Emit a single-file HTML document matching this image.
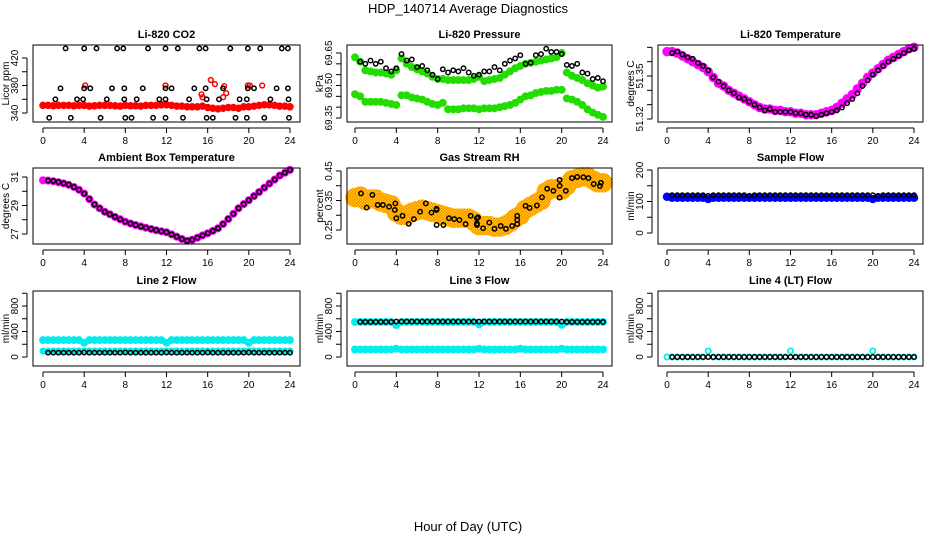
<!DOCTYPE html>
<html><head><meta charset="utf-8">
<style>
html,body{margin:0;padding:0;background:#fff;}
svg{display:block;font-family:"Liberation Sans",Arial,sans-serif;}
</style></head>
<body>
<svg id="chart" width="936" height="540" viewBox="0 0 936 540">
<defs>
<pattern id="rhpat" width="3" height="3" patternUnits="userSpaceOnUse">
<rect width="3" height="3" fill="#ffd400"/><rect width="1.6" height="1.6" fill="#ff8c00"/><rect x="1.5" y="1.5" width="1.5" height="1.5" fill="#ff3000" opacity="0.5"/>
</pattern>
</defs>
<text x="468" y="13" font-size="13" text-anchor="middle">HDP_140714  Average Diagnostics</text>
<text x="468" y="531" font-size="13" text-anchor="middle">Hour of Day (UTC)</text>
</svg>
<script>
// ---- data (values per half hour, 0..24) ----
const co2Red = [351,351,350.5,351,351,351,350.5,351,351,350,350.5,351,351,351,350.5,350,351,350.5,350.5,350,351,351,351,352,352,351,350,350,349,349,349,350,348,347,346,347,348,348,347,349,349,350,351,352,352,351,350,350,349];
const co2RedOutHours = [4.1,11.9,15.4,16.3,16.7,17.6,17.8,17.5,19.9,20.1,21.3,15.5];
const co2RedOutVals = [380,380,367,388,382,379,369,363,380,380,380,363];
const co2BlkHours = [2.2,4.0,5.2,7.2,7.8,10.2,11.9,13.1,15.2,15.8,18.2,19.9,21.1,23.2,23.8,
 1.7,4.0,4.6,6.7,7.9,9.7,11.9,12.5,14.7,15.8,17.5,19.9,20.5,22.7,23.8,
 1.2,3.3,3.9,6.2,7.9,9.1,11.3,11.9,14.2,15.9,17.1,19.1,19.8,22.1,23.85,
 0.6,2.7,5.6,8.0,8.6,10.7,11.9,13.6,15.9,16.5,18.7,19.8,21.5,23.9];
const co2BlkVals = [434,434,434,434,434,434,434,434,434,434,434,434,434,434,434,
 376,376,376,376,376,376,376,376,376,376,376,376,376,376,376,
 360,360,360,360,360,360,360,360,360,360,360,360,360,360,360,
 333,333,333,333,333,333,333,333,333,333,333,333,333,333];

const presUpper = [69.63,69.61,69.57,69.565,69.56,69.56,69.555,69.55,69.57,69.625,69.60,69.585,69.575,69.565,69.555,69.54,69.53,69.53,69.525,69.525,69.525,69.525,69.525,69.53,69.54,69.52,69.525,69.53,69.535,69.55,69.565,69.58,69.59,69.6,69.605,69.61,69.615,69.62,69.625,69.63,69.65,69.56,69.545,69.535,69.525,69.51,69.5,69.49,69.495];
const presLower = [69.46,69.45,69.425,69.425,69.425,69.425,69.42,69.415,69.41,69.455,69.455,69.445,69.44,69.435,69.425,69.415,69.41,69.42,69.39,69.39,69.39,69.395,69.395,69.395,69.39,69.395,69.395,69.395,69.4,69.405,69.41,69.42,69.435,69.45,69.455,69.465,69.47,69.475,69.475,69.48,69.48,69.44,69.435,69.425,69.41,69.39,69.375,69.365,69.355];
const presBlack = [69.61,69.60,69.615,69.60,69.61,69.58,69.565,69.58,69.645,69.615,69.62,69.585,69.59,69.57,69.55,69.53,69.575,69.56,69.57,69.565,69.58,69.56,69.545,69.55,69.565,69.565,69.585,69.57,69.6,69.615,69.625,69.64,69.60,69.605,69.64,69.645,69.67,69.655,69.655,69.645,69.595,69.59,69.6,69.56,69.555,69.53,69.535,69.52];

const tempMag = [51.367,51.367,51.366,51.364,51.362,51.360,51.358,51.356,51.353,51.349,51.345,51.343,51.340,51.338,51.336,51.334,51.332,51.330,51.328,51.327,51.327,51.326,51.326,51.325,51.325,51.324,51.324,51.323,51.323,51.323,51.324,51.325,51.326,51.328,51.331,51.334,51.337,51.341,51.345,51.349,51.352,51.355,51.358,51.361,51.363,51.365,51.367,51.369,51.370];
const tempBlack = [51.366,51.367,51.365,51.363,51.362,51.359,51.357,51.354,51.349,51.346,51.343,51.340,51.338,51.335,51.334,51.332,51.330,51.328,51.326,51.327,51.325,51.325,51.325,51.325,51.324,51.324,51.323,51.323,51.322,51.323,51.324,51.325,51.326,51.328,51.331,51.334,51.338,51.343,51.347,51.351,51.354,51.357,51.360,51.362,51.364,51.366,51.368,51.369];

const ambMag = [30.77,30.75,30.7,30.63,30.55,30.45,30.3,30.1,29.84,29.45,29.07,28.8,28.56,28.38,28.2,28.03,27.86,27.74,27.63,27.53,27.44,27.35,27.26,27.19,27.12,26.97,26.81,26.65,26.52,26.6,26.74,26.9,27.05,27.22,27.4,27.7,28.05,28.42,28.8,29.1,29.37,29.66,29.95,30.25,30.54,30.82,31.1,31.3,31.5];
const ambBlack = [30.75,30.72,30.65,30.56,30.46,30.3,30.1,29.83,29.45,29.07,28.8,28.56,28.38,28.2,28.03,27.86,27.74,27.63,27.53,27.44,27.35,27.27,27.19,27.12,26.97,26.81,26.65,26.52,26.6,26.74,26.9,27.05,27.22,27.4,27.7,28.05,28.42,28.8,29.1,29.37,29.66,29.95,30.25,30.54,30.82,31.1,31.3,31.5];

const rhBand = [0.36,0.365,0.35,0.355,0.355,0.345,0.34,0.335,0.31,0.30,0.30,0.31,0.315,0.32,0.315,0.31,0.305,0.30,0.295,0.29,0.29,0.29,0.29,0.28,0.265,0.265,0.265,0.26,0.26,0.265,0.275,0.29,0.30,0.32,0.33,0.34,0.35,0.38,0.39,0.39,0.385,0.40,0.42,0.425,0.43,0.43,0.42,0.41,0.41];
const rhBlkHours = [0.58,1.13,1.68,2.2,2.7,3.3,3.9,3.85,4.0,4.6,5.2,5.7,6.3,6.85,7.4,7.9,7.9,7.9,8.55,9.1,9.6,10.1,10.7,11.2,11.8,11.8,11.8,11.9,12.4,13.0,13.5,14.1,14.6,15.2,15.7,15.7,15.7,16.5,16.9,17.6,18.1,18.6,19.2,19.8,19.8,19.8,20.4,21.0,21.5,22.1,22.6,23.1,23.7,23.8];
const rhBlkVals = [0.374,0.326,0.369,0.335,0.335,0.329,0.34,0.318,0.29,0.298,0.271,0.287,0.312,0.34,0.309,0.322,0.318,0.267,0.267,0.29,0.287,0.284,0.27,0.298,0.29,0.272,0.267,0.293,0.256,0.275,0.254,0.264,0.254,0.264,0.284,0.298,0.27,0.332,0.325,0.333,0.361,0.39,0.383,0.42,0.40,0.36,0.383,0.426,0.43,0.429,0.426,0.406,0.399,0.41];

const sfBlue = [115,112,112,112,112,112,112,112,108,112,112,112,112,112,112,112,112,112,112,112,112,112,112,112,112,112,112,112,112,112,112,112,112,112,112,112,112,112,112,112,108,112,112,112,112,112,112,112,112];
const sfBlack = [120,120,120,120,120,120,120,118,120,120,120,120,120,120,120,118,120,120,120,120,120,120,120,120,120,120,120,120,120,120,120,120,120,120,120,120,120,120,120,120,118,120,120,120,120,120,120,120];

const l2Upper = [265,265,265,265,265,265,265,265,225,265,265,265,265,265,265,265,265,265,265,265,265,265,265,265,225,265,265,265,265,265,265,265,265,265,265,265,265,265,265,265,225,265,265,265,265,265,265,265,265];
const l2Lower = [94,94,94,94,94,94,94,94,94,94,94,94,94,94,94,94,94,94,94,94,94,94,94,94,94,94,94,94,94,94,94,94,94,94,94,94,94,94,94,94,94,94,94,94,94,94,94,94,94];
const l2Black = [67,67,67,67,67,67,67,70,67,67,67,67,67,67,67,70,67,67,67,67,67,67,67,70,67,67,67,67,67,67,67,70,67,67,67,67,67,67,67,70,67,67,67,67,67,67,67,67];

const l3Upper = [551,551,551,551,551,551,551,551,500,551,551,551,551,551,551,551,551,551,551,551,551,551,551,551,510,551,551,551,551,551,551,551,551,551,551,551,551,551,551,551,505,551,551,551,551,551,551,551,551];
const l3Lower = [120,120,120,120,120,120,120,120,130,120,120,120,120,120,120,120,120,120,120,120,120,120,120,120,130,120,120,120,120,120,120,120,130,120,120,120,120,120,120,120,130,120,120,120,120,120,120,120,120];
const l3Black = [551,551,551,551,551,551,551,555,555,555,555,555,555,555,555,555,555,555,555,555,555,555,555,555,555,555,555,555,555,555,555,555,555,555,555,555,555,555,555,555,551,551,551,551,551,551,551,551];

const l4Cyan = [0,0,0,0,0,0,0,0,94,0,0,0,0,0,0,0,0,0,0,0,0,0,0,0,94,0,0,0,0,0,0,0,0,0,0,0,0,0,0,0,94,0,0,0,0,0,0,0,0];
const l4Black = [0,0,0,0,0,0,0,0,0,0,0,0,0,0,0,0,0,0,0,0,0,0,0,0,0,0,0,0,0,0,0,0,0,0,0,0,0,0,0,0,0,0,0,0,0,0,0,0];

const xTicks = [0,4,8,12,16,20,24];

// ---- drawing ----
const NS = 'http://www.w3.org/2000/svg';
const svg = document.getElementById('chart');
function mk(tag, attrs, parent){
  const e = document.createElementNS(NS, tag);
  for (const k in attrs) e.setAttribute(k, attrs[k]);
  (parent||svg).appendChild(e);
  return e;
}
const halfHours = []; for (let i=0;i<=48;i++) halfHours.push(i/2);
const blkHours = halfHours.slice(1);

function panel(c){
  const g = mk('g', {});
  
  
  const X = h => c.xa + (c.xb - c.xa) * h / 24;
  const Y = v => c.ya[1] + (c.yb[1] - c.ya[1]) * (v - c.ya[0]) / (c.yb[0] - c.ya[0]);
  const [l,t,r,b] = c.box;
  c.series.forEach(s => {
    const sg = mk('g', {}, g);
    
    
    s.vals.forEach((v,i) => {
      const cy = Y(v);
      if (cy < t-2 || cy > b+2) return;
      const p = mk('circle', {cx: X(s.hours[i]).toFixed(1), cy: cy.toFixed(1), r: s.r,
        fill: s.fill, stroke: s.stroke, 'stroke-width': s.sw}, sg);
      
      
    });
  });
  const bx = mk('rect', {x:l, y:t, width:r-l, height:b-t, fill:'none', stroke:'#000', 'stroke-width':1}, g);
  
  
  const xa = mk('g', {}, g);
  
  
  mk('line', {x1:X(0), x2:X(24), y1:b+6, y2:b+6, stroke:'#000'}, xa);
  xTicks.forEach(h => {
    mk('line', {x1:X(h), x2:X(h), y1:b+6, y2:b+11, stroke:'#000'}, xa);
    const tx = mk('text', {x:X(h), y:b+22, 'font-size':10, 'text-anchor':'middle'}, xa);
    tx.textContent = h;
    
    
  });
  const ya = mk('g', {}, g);
  
  
  const ax = l - 6;
  mk('line', {x1:ax, x2:ax, y1:Y(c.yticks[0]), y2:Y(c.yticks[c.yticks.length-1]), stroke:'#000'}, ya);
  c.yticks.forEach(v => mk('line', {x1:ax-5, x2:ax, y1:Y(v), y2:Y(v), stroke:'#000'}, ya));
  c.ylabels.forEach(v => {
    const yy = Y(v);
    const tx = mk('text', {x:0, y:0, 'font-size':10, 'text-anchor':'middle', transform:`translate(${ax-9},${yy}) rotate(-90)`}, ya);
    tx.textContent = c.fmt ? v.toFixed(c.fmt) : v;
    
    
  });
  const yt = mk('text', {x:0, y:0, 'font-size':10, 'text-anchor':'middle', transform:`translate(${l-24},${(t+b)/2}) rotate(-90)`}, g);
  yt.textContent = c.ylab;
  
  
  const tt = mk('text', {x:(l+r)/2, y:t-7, 'font-size':11, 'font-weight':'bold', 'text-anchor':'middle'}, g);
  tt.textContent = c.title;
  
  
}

const col = [{l:33,r:300,xa:43,xb:290},{l:347,r:612,xa:355,xb:603},{l:658,r:923,xa:667,xb:914}];
const row = [{t:45,b:122},{t:168,b:244},{t:291,b:366}];
const blk = (name, vals, hours) => ({name, vals, hours: hours||blkHours, r:2.2, fill:'none', stroke:'#000', sw:1.5});
const band = (name, vals, color, r) => ({name, vals, hours: halfHours, r: r||3.5, fill: color, stroke: color, sw:1.5});
function P(ci, ri, o){ return Object.assign({box:[col[ci].l,row[ri].t,col[ci].r,row[ri].b], xa:col[ci].xa, xb:col[ci].xb}, o); }

panel(P(0,0,{name:'co2-panel', title:'Li-820 CO2', ylab:'Licor ppm', ya:[340,113], yb:[420,58],
  yticks:[340,360,380,400,420], ylabels:[340,380,420], series:[
  band('co2-red-band', co2Red, '#ff0000', 3),
  {name:'co2-red-outliers', vals:co2RedOutVals, hours:co2RedOutHours, r:2.4, fill:'none', stroke:'#ff0000', sw:1.5},
  blk('co2-black-points', co2BlkVals, co2BlkHours)]}));
panel(P(1,0,{name:'pressure-panel', title:'Li-820 Pressure', ylab:'kPa', ya:[69.35,118], yb:[69.65,53], fmt:2,
  yticks:[69.35,69.40,69.45,69.50,69.55,69.60,69.65], ylabels:[69.35,69.50,69.65], series:[
  band('pressure-upper-band', presUpper, '#22dd00', 3.2),
  band('pressure-lower-band', presLower, '#22dd00', 3.2),
  blk('pressure-black-points', presBlack)]}));
panel(P(2,0,{name:'li820-temp-panel', title:'Li-820 Temperature', ylab:'degrees C', ya:[51.32,119], yb:[51.35,76], fmt:2,
  yticks:[51.32,51.33,51.34,51.35,51.36,51.37], ylabels:[51.32,51.35], series:[
  band('temp-magenta-band', tempMag, '#ff00ff', 4),
  blk('temp-black-points', tempBlack)]}));
panel(P(0,1,{name:'ambient-temp-panel', title:'Ambient Box Temperature', ylab:'degrees C', ya:[27,234], yb:[31,177],
  yticks:[27,28,29,30,31], ylabels:[27,29,31], series:[
  band('ambient-magenta-band', ambMag, '#ff00ff', 3.3),
  blk('ambient-black-points', ambBlack)]}));
panel(P(1,1,{name:'rh-panel', title:'Gas Stream RH', ylab:'percent', ya:[0.25,230], yb:[0.45,171], fmt:2,
  yticks:[0.25,0.30,0.35,0.40,0.45], ylabels:[0.25,0.35,0.45], series:[
  band('rh-band', rhBand, 'url(#rhpat)', 9),
  blk('rh-black-points', rhBlkVals, rhBlkHours)]}));
panel(P(2,1,{name:'sample-flow-panel', title:'Sample Flow', ylab:'ml/min', ya:[0,233], yb:[200,170],
  yticks:[0,50,100,150,200], ylabels:[0,100,200], series:[
  band('sample-flow-blue-band', sfBlue, '#0000ff', 3.5),
  blk('sample-flow-black-points', sfBlack)]}));
panel(P(0,2,{name:'line2-flow-panel', title:'Line 2 Flow', ylab:'ml/min', ya:[0,357], yb:[800,306],
  yticks:[0,200,400,600,800,1000], ylabels:[0,400,800], series:[
  band('line2-cyan-upper', l2Upper, '#00eeee', 3.2),
  band('line2-cyan-lower', l2Lower, '#00eeee', 2.8),
  blk('line2-black-points', l2Black)]}));
panel(P(1,2,{name:'line3-flow-panel', title:'Line 3 Flow', ylab:'ml/min', ya:[0,357], yb:[800,306],
  yticks:[0,200,400,600,800,1000], ylabels:[0,400,800], series:[
  band('line3-cyan-upper', l3Upper, '#00eeee', 3.2),
  band('line3-cyan-lower', l3Lower, '#00eeee', 3.2),
  blk('line3-black-points', l3Black)]}));
panel(P(2,2,{name:'line4-flow-panel', title:'Line 4 (LT) Flow', ylab:'ml/min', ya:[0,357], yb:[800,306],
  yticks:[0,200,400,600,800,1000], ylabels:[0,400,800], series:[
  {name:'line4-cyan-points', vals:l4Cyan, hours:halfHours, r:2.6, fill:'none', stroke:'#00eeee', sw:1.8},
  blk('line4-black-points', l4Black)]}));
</script>
</body></html>
